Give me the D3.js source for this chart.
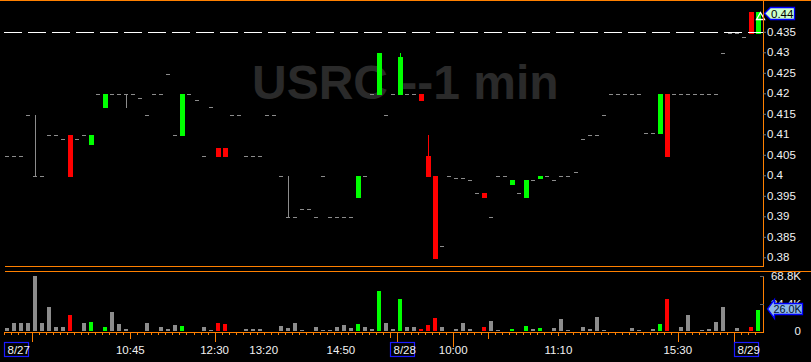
<!DOCTYPE html>
<html><head><meta charset="utf-8">
<script src="https://cdn.jsdelivr.net/npm/d3@7"></script>
<style>html,body{margin:0;padding:0;background:#000;overflow:hidden}svg{display:block}</style>
</head><body>
<svg id="c" width="811" height="362"></svg>
<script>
// ---------------- data ----------------
const barIndex = d3.range(108);
const open = [
.405,.405,.405,.415,.400,.400,.410,.410,.409,.410,
.409,.410,.408,.420,.417,.420,.420,.420,.420,.419,
.415,.420,.420,.425,.410,.410,.420,.4185,.405,.417,
.407,.407,.415,.415,.405,.405,.405,.415,.415,.400,
.390,.390,.392,.392,.390,.400,.390,.390,.390,.390,
.395,.400,.420,.420,.415,.420,.420,.420,.420,.420,
.405,.400,.383,.400,.3995,.3995,.399,.396,.396,.390,
.400,.400,.398,.396,.395,.399,.3996,.400,.399,.400,
.400,.401,.409,.410,.410,.415,.420,.420,.420,.420,
.420,.4105,.4105,.4105,.420,.420,.420,.420,.420,.420,
.420,.420,.430,.435,.435,.434,.440,.435];
const close = [
.405,.405,.405,.415,.400,.400,.410,.410,.409,.400,
.409,.410,.410,.420,.420,.420,.420,.420,.420,.419,
.415,.420,.420,.425,.410,.420,.420,.4185,.405,.417,
.405,.405,.415,.415,.405,.405,.405,.415,.415,.400,
.390,.390,.392,.392,.390,.400,.390,.390,.390,.390,
.400,.400,.420,.430,.415,.420,.429,.420,.420,.4185,
.400,.380,.383,.400,.3995,.3995,.399,.396,.395,.390,
.400,.400,.399,.396,.399,.399,.400,.400,.399,.400,
.400,.401,.409,.410,.410,.415,.420,.420,.420,.420,
.420,.4105,.4105,.420,.405,.420,.420,.420,.420,.420,
.420,.420,.430,.435,.435,.434,.435,.440];
const high = [
.405,.405,.405,.415,.415,.400,.410,.410,.409,.410,
.409,.410,.410,.420,.420,.420,.420,.420,.420,.419,
.415,.420,.420,.425,.410,.420,.420,.4185,.405,.417,
.407,.407,.415,.415,.405,.405,.405,.415,.415,.400,
.400,.390,.392,.392,.390,.400,.390,.390,.390,.390,
.400,.400,.420,.430,.415,.420,.430,.420,.420,.420,
.410,.400,.383,.400,.3995,.3995,.399,.396,.396,.390,
.400,.400,.399,.396,.399,.399,.400,.400,.399,.400,
.400,.401,.409,.410,.410,.415,.420,.420,.420,.420,
.420,.4105,.4105,.420,.420,.420,.420,.420,.420,.420,
.420,.420,.430,.435,.435,.434,.440,.440];
const low = [
.405,.405,.405,.415,.400,.400,.410,.410,.409,.400,
.409,.410,.408,.420,.417,.420,.420,.417,.420,.419,
.415,.420,.420,.425,.410,.410,.420,.4185,.405,.417,
.405,.405,.415,.415,.405,.405,.405,.415,.415,.400,
.390,.390,.392,.392,.390,.400,.390,.390,.390,.390,
.395,.400,.420,.420,.415,.420,.420,.420,.420,.4185,
.400,.380,.383,.400,.3995,.3995,.399,.396,.395,.390,
.400,.400,.398,.396,.395,.399,.3996,.400,.399,.400,
.400,.401,.409,.410,.410,.415,.420,.420,.420,.420,
.420,.4105,.4105,.4105,.405,.420,.420,.420,.420,.420,
.420,.420,.430,.435,.435,.434,.435,.435];
const volume = [
3750,10000,10000,10000,68800,10000,30000,5000,5000,20000,
0,10000,11250,0,5000,23750,8750,2500,0,0,
10000,0,5000,2500,7500,6250,0,0,5000,1250,
10000,8750,0,0,2500,2500,2500,0,0,6250,
3750,10000,1250,0,5000,1250,1250,5000,7500,3750,
8750,5000,2500,50000,10000,2500,40000,5000,5000,2500,
7500,16250,5000,0,2500,10000,2500,0,5000,12500,
1250,0,2500,0,6250,2500,3750,0,3750,15000,
1250,0,5000,2500,17500,1250,0,0,0,3750,
1250,0,2500,8750,40000,0,5000,20000,0,1250,
2500,11250,30000,0,3750,0,5000,26000];
const priceTicks = [0.38,0.385,0.39,0.395,0.40,0.405,0.41,0.415,0.42,0.425,0.43,0.435];
const lastPrice = 0.44;
const referenceLine = 0.435;
const volumeTicks = [0, 34400, 68800];
const timeLabels = [[18,"10:45"],[30,"12:30"],[37,"13:20"],[48,"14:50"],[64,"10:00"],[79,"11:10"],[96,"15:30"]];
const dateLabels = [[0,"8/27"],[55,"8/28"],[104,"8/29"]];
const longTicks = [[4,10],[18,7],[30,10],[55,6],[56,10],[64,15],[69,7],[79,4],[96,10],[104,10]];
const title = "USRC --1 min";

// ---------------- drawing ----------------
const svg = d3.select("#c");
const W = 811, H = 362;
const ORANGE = "#ff8000", GREEN = "#00ff00", RED = "#ff0000", GRAY = "#8c8c8c";
const FONT = "'Liberation Sans', Arial, sans-serif";

svg.append("rect").attr("width", W).attr("height", H).attr("fill", "#000");

const x = d3.scaleBand().domain(barIndex).range([4, 762]).paddingInner(0).paddingOuter(0);
const y = d3.scaleLinear().domain([0.38, 0.44]).range([258.3, 12.3]);
const yV = d3.scaleLinear().domain([0, 68800]).range([331, 276]);

// title
svg.append("text").attr("x", 252).attr("y", 99)
  .attr("font-family", FONT).attr("font-weight", "bold").attr("font-size", 48)
  .attr("fill", "#2a2a2a").style("white-space", "pre").text(title);

const bars = barIndex.map(i => ({i, o: open[i], c: close[i], h: high[i], l: low[i], v: volume[i]}));
const col = d => d.c > d.o ? GREEN : d.c < d.o ? RED : GRAY;

const g = svg.append("g").attr("shape-rendering", "crispEdges");
// wicks
g.selectAll("rect.wick").data(bars.filter(d => d.h > Math.max(d.o, d.c) || d.l < Math.min(d.o, d.c)))
  .join("rect").attr("class", "wick")
  .attr("x", d => Math.round(x(d.i)) + 3).attr("width", 1)
  .attr("y", d => Math.round(y(d.h)))
  .attr("height", d => Math.round(y(d.l)) - Math.round(y(d.h)) + 1)
  .attr("fill", col);
// bodies
g.selectAll("rect.body").data(bars).join("rect").attr("class", "body")
  .attr("x", d => Math.round(x(d.i)) + 1)
  .attr("width", d => d.o === d.c ? 4 : 5)
  .attr("y", d => Math.round(y(Math.max(d.o, d.c))))
  .attr("height", d => d.o === d.c ? 1 : Math.round(y(Math.min(d.o, d.c))) - Math.round(y(Math.max(d.o, d.c))) + 1)
  .attr("fill", col);

// reference dashed line
svg.append("line").attr("x1", 4).attr("x2", 763)
  .attr("y1", Math.floor(y(referenceLine)) + 0.5).attr("y2", Math.floor(y(referenceLine)) + 0.5)
  .attr("stroke", "#fff").attr("stroke-width", 1).attr("stroke-dasharray", "18,6");

// volume bars
g.selectAll("rect.vol").data(bars.filter(d => d.v > 0)).join("rect").attr("class", "vol")
  .attr("x", d => Math.round(x(d.i)) + 1).attr("width", 4)
  .attr("y", d => Math.round(yV(d.v)))
  .attr("height", d => 331 - Math.round(yV(d.v)))
  .attr("fill", col);

// last bar triangle marker
const lb = bars[bars.length - 1];
const tx = Math.round(x(lb.i));
svg.append("path")
  .attr("d", `M${tx + 1.5},${Math.round(y(lb.h)) + 7.5} L${tx + 5.5},${Math.round(y(lb.h)) + 0.5} L${tx + 9.5},${Math.round(y(lb.h)) + 7.5} Z`)
  .attr("fill", "none").attr("stroke", "#fff").attr("stroke-width", 1.3);

// frame lines
const fr = svg.append("g").attr("stroke", ORANGE).attr("stroke-width", 1).attr("shape-rendering", "crispEdges");
fr.append("line").attr("x1", 0).attr("x2", W).attr("y1", 0.5).attr("y2", 0.5);
fr.append("line").attr("x1", 5).attr("x2", 763.5).attr("y1", 266.5).attr("y2", 266.5);
fr.append("line").attr("x1", 763.5).attr("x2", 763.5).attr("y1", 0).attr("y2", 266.5);
fr.append("line").attr("x1", 5).attr("x2", W).attr("y1", 271.5).attr("y2", 271.5);
fr.append("line").attr("x1", 4).attr("x2", 763.5).attr("y1", 332.5).attr("y2", 332.5);
fr.append("line").attr("x1", 763.5).attr("x2", 763.5).attr("y1", 276).attr("y2", 332.5);

// price axis
const pa = svg.append("g").attr("transform", "translate(763,-1)")
  .call(d3.axisRight(y).tickValues(priceTicks).tickSize(3).tickPadding(1).tickFormat(d3.format(".3~f")));
pa.select(".domain").remove();
pa.selectAll("line").attr("stroke", "#777");
pa.selectAll("text").attr("fill", "#f2f2f2").attr("font-family", FONT).attr("font-size", 11.5);

// volume axis
const va = svg.append("g").attr("transform", "translate(763,0)")
  .call(d3.axisRight(yV).tickValues(volumeTicks).tickSize(0).tickPadding(38)
    .tickFormat(v => v === 0 ? "0" : d3.format(".1f")(v / 1000) + "K"));
va.select(".domain").remove();
va.selectAll("text").attr("fill", "#f2f2f2").attr("font-family", FONT).attr("font-size", 11.5).attr("text-anchor", "end");
svg.append("g").selectAll("line").data(volumeTicks.slice(1)).join("line")
  .attr("x1", 760).attr("x2", 764).attr("y1", d => Math.round(yV(d)) + 0.5).attr("y2", d => Math.round(yV(d)) + 0.5)
  .attr("stroke", "#666");

// time axis ticks
const ta = svg.append("g").attr("shape-rendering", "crispEdges");
ta.selectAll("line.s").data(barIndex).join("line").attr("class", "s")
  .attr("x1", d => Math.round(x(d)) + 0.5).attr("x2", d => Math.round(x(d)) + 0.5)
  .attr("y1", 332).attr("y2", 335).attr("stroke", ORANGE);
ta.selectAll("line.l").data(longTicks).join("line").attr("class", "l")
  .attr("x1", d => Math.round(x(d[0])) + 0.5).attr("x2", d => Math.round(x(d[0])) + 0.5)
  .attr("y1", 332).attr("y2", d => 332 + d[1]).attr("stroke", ORANGE);

svg.append("g").selectAll("text").data(timeLabels).join("text")
  .attr("x", d => x(d[0])).attr("y", 353.5).attr("text-anchor", "middle")
  .attr("font-family", FONT).attr("font-size", 11.5).attr("fill", "#f2f2f2").text(d => d[1]);

const dl = svg.append("g").selectAll("g").data(dateLabels).join("g")
  .attr("transform", d => `translate(${Math.round(x(d[0]))},0)`);
dl.append("rect").attr("x", 0.5).attr("y", 342.5).attr("width", 24).attr("height", 14)
  .attr("fill", "none").attr("stroke", "#1a1aff").attr("stroke-width", 1.2);
dl.append("text").attr("x", 3.5).attr("y", 353.5)
  .attr("font-family", FONT).attr("font-size", 11.5).attr("fill", "#f2f2f2").text(d => d[1]);

// last price marker
const py = Math.round(y(lastPrice)) + 1;
svg.append("path")
  .attr("d", `M764.5,${py + 0.5} L770.5,${py - 5.5} L794.5,${py - 5.5} L794.5,${py + 6.5} L770.5,${py + 6.5} Z`)
  .attr("fill", "#ccffcc").attr("stroke", "#0000ff").attr("stroke-width", 1.3);
svg.append("text").attr("x", 771).attr("y", py + 0.5).attr("dy", "0.35em")
  .attr("font-family", FONT).attr("font-size", 11.5).attr("fill", "#000").text(d3.format(".3~f")(lastPrice));

// last volume marker
const vy = Math.round(yV(lb.v)) - 1;
svg.append("path")
  .attr("d", `M767.5,${vy} L774.5,${vy - 9.5} L774.5,${vy - 5.5} L802.5,${vy - 5.5} L802.5,${vy + 5.5} L774.5,${vy + 5.5} L774.5,${vy + 9.5} Z`)
  .attr("fill", "#8fb8e8").attr("stroke", "#0000ff").attr("stroke-width", 1.3);
svg.append("text").attr("x", 773.5).attr("y", vy).attr("dy", "0.35em")
  .attr("font-family", FONT).attr("font-size", 10.8).attr("fill", "#001030").text(d3.format(".1f")(lb.v / 1000) + "K");
</script>
</body></html>
